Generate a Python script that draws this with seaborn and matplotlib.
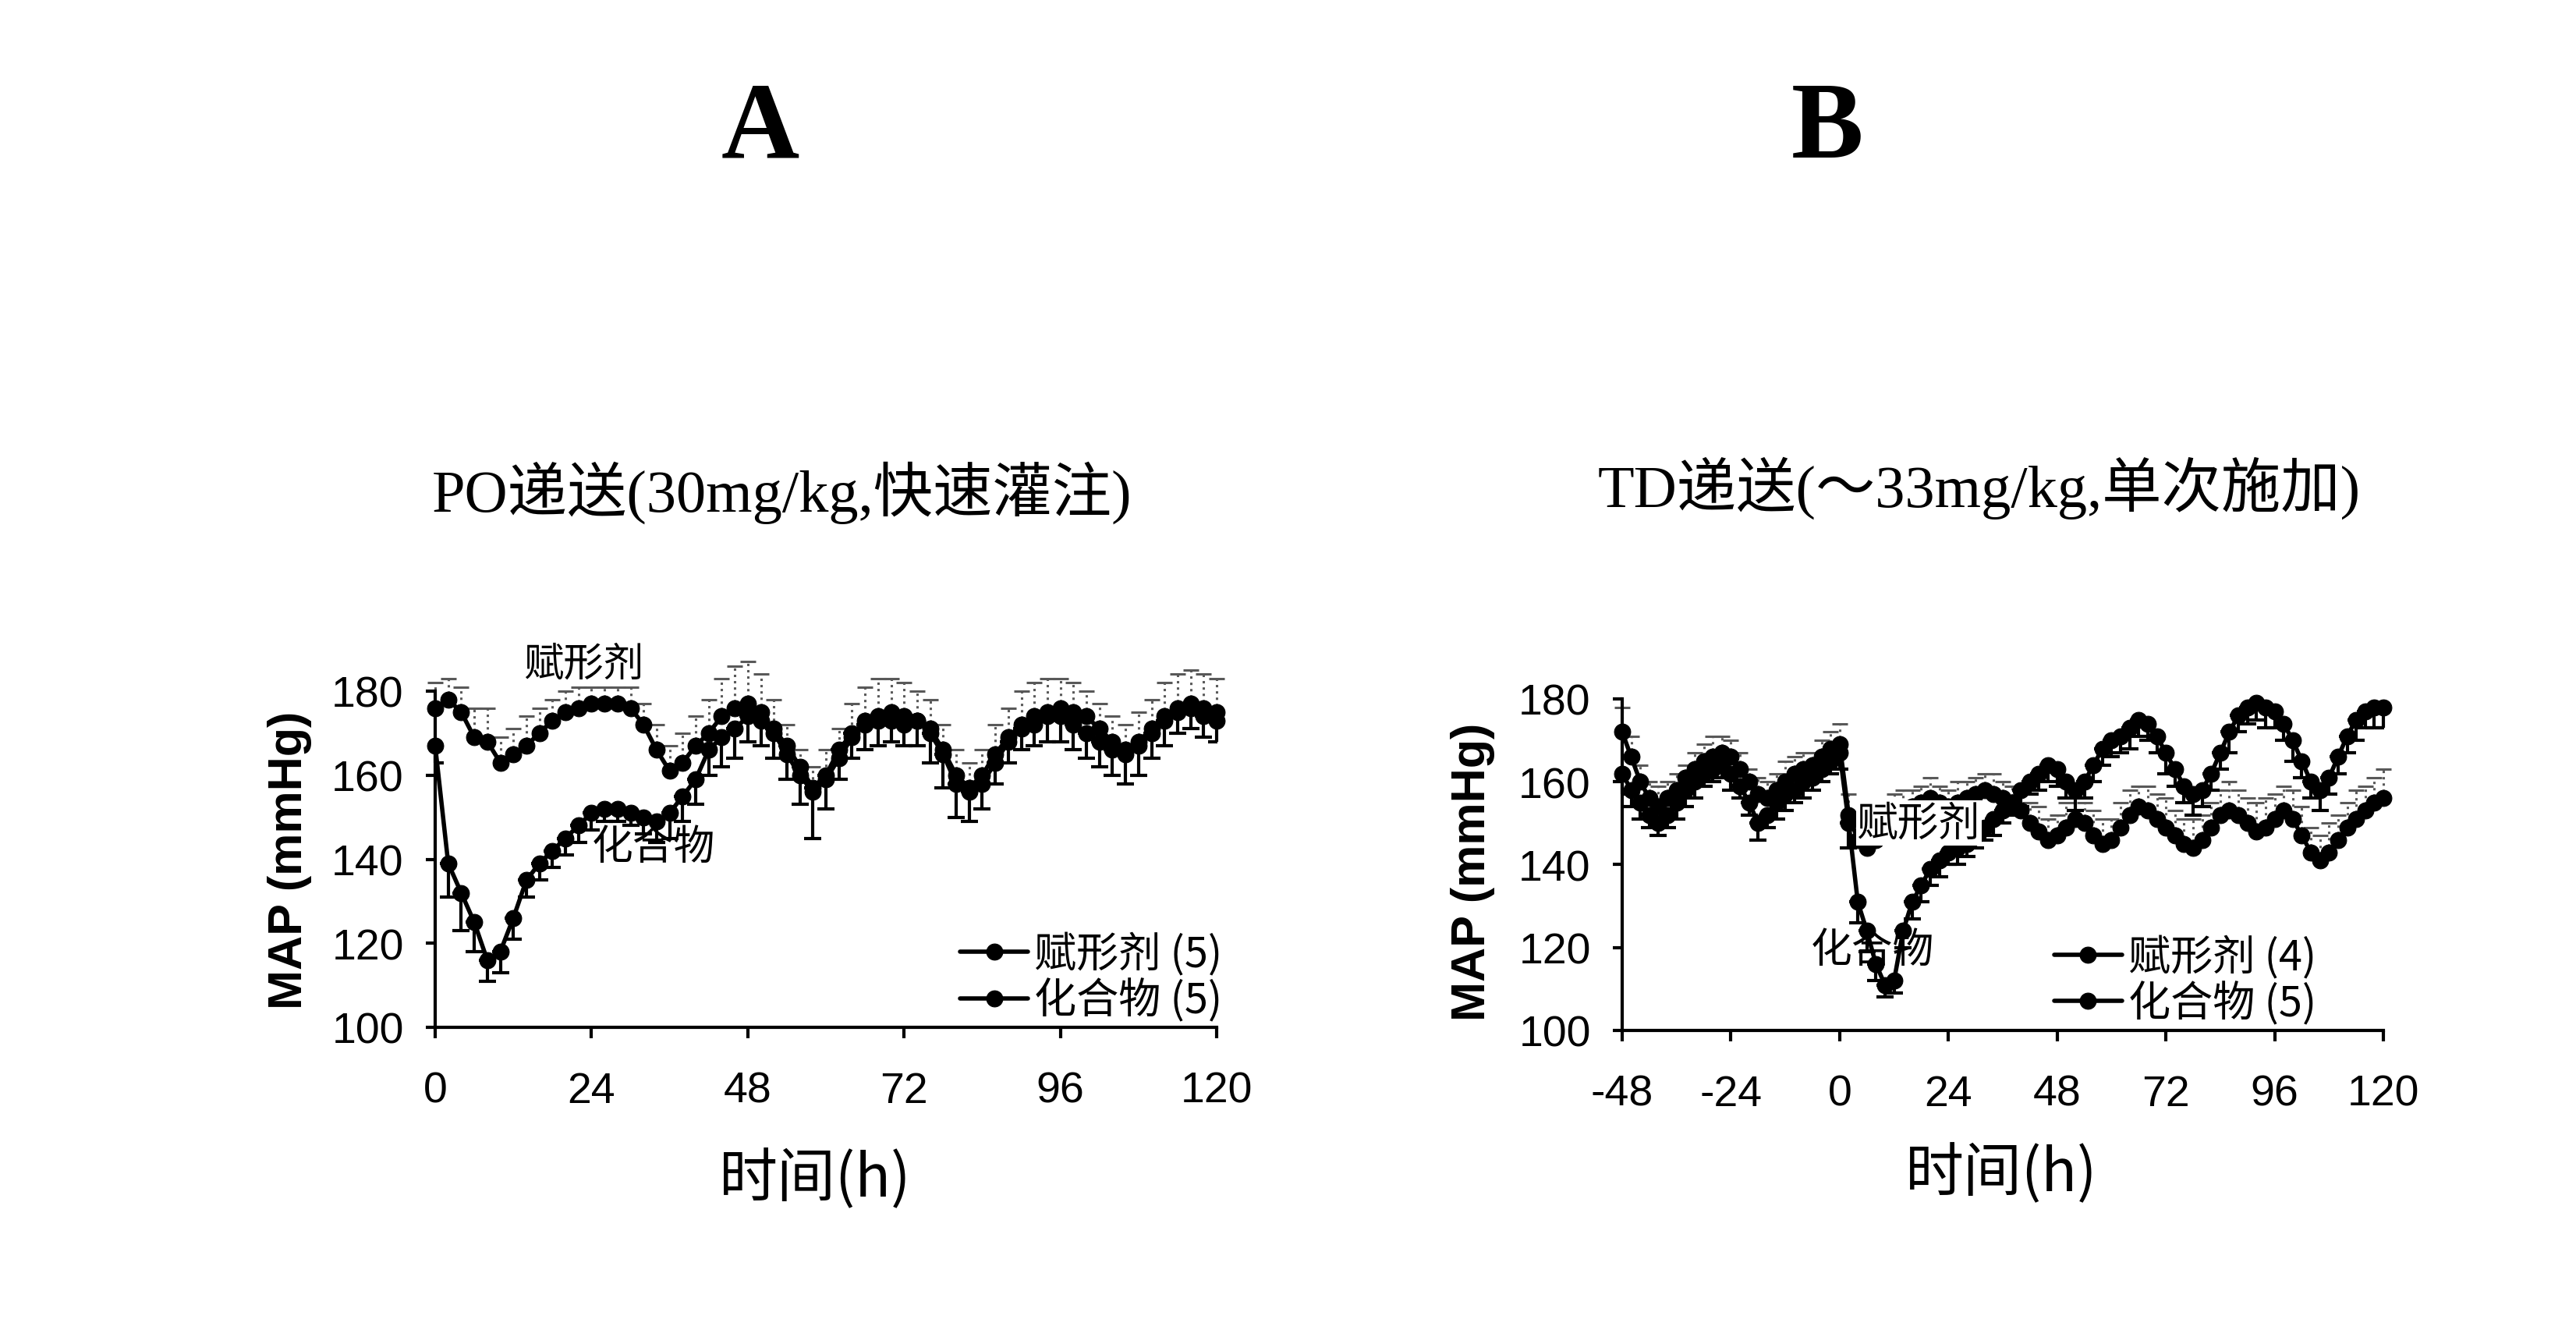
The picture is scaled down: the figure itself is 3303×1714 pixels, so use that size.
import matplotlib
matplotlib.use("Agg")
import matplotlib.pyplot as plt
import seaborn as sns
import pandas as pd

# ---------------- panel A : PO (0..120 h, every 2 h) ----------------
hours_a = list(range(0, 121, 2))
vehicle_a = [176, 178, 175, 169, 168, 163, 165, 167, 170, 173,
             175, 176, 177, 177, 177, 176, 172, 166, 161, 163,
             167, 170, 174, 176, 177, 175, 170, 165, 160, 156,
             159, 164, 169, 173, 174, 175, 174, 173, 171, 166,
             160, 157, 160, 165, 169, 172, 174, 175, 176, 175,
             174, 171, 168, 166, 168, 171, 174, 176, 177, 176, 175]
vehicle_a_err = [6, 5, 6, 7, 8, 6, 6, 7, 6, 5,
                 5, 5, 4, 4, 4, 5, 5, 6, 6, 7,
                 7, 8, 9, 10, 10, 9, 8, 7, 6, 6,
                 7, 7, 8, 8, 9, 8, 8, 7, 7, 6,
                 6, 6, 6, 7, 7, 8, 8, 8, 7, 7,
                 6, 6, 6, 6, 7, 7, 8, 8, 8, 8, 8]
compound_a = [167, 139, 132, 125, 116, 118, 126, 135, 139, 142,
              145, 148, 151, 152, 152, 151, 150, 149, 151, 155,
              159, 166, 169, 171, 174, 173, 171, 167, 162, 157,
              160, 166, 170, 172, 173, 173, 172, 173, 170, 165,
              158, 156, 158, 163, 168, 171, 172, 174, 174, 172,
              170, 168, 166, 165, 167, 170, 173, 175, 176, 174, 173]
compound_a_err = [4, 8, 9, 7, 5, 5, 5, 4, 4, 4,
                  4, 4, 4, 3, 3, 3, 4, 5, 6, 6,
                  6, 6, 7, 7, 6, 6, 7, 8, 9, 12,
                  8, 7, 6, 6, 6, 5, 5, 6, 7, 8,
                  8, 7, 6, 5, 5, 5, 5, 6, 6, 6,
                  6, 6, 6, 7, 7, 6, 6, 5, 5, 5, 5]

# ---------------- panel B : TD (-48..120 h, every 2 h) ----------------
hours_b = list(range(-48, 121, 2))
vehicle_b = [172, 166, 160, 156, 154, 156, 158, 161, 163, 165,
             166, 167, 166, 163, 160, 157, 156, 158, 160, 162,
             163, 164, 166, 168, 169,
             152, 146, 144, 146, 150, 152, 153, 154, 155, 156,
             155, 154, 155, 156, 157, 158, 157, 156, 155, 153,
             150, 148, 146, 147, 149, 151, 150, 147, 145, 146,
             149, 152, 154, 153, 151, 149, 147, 145, 144, 146,
             149, 152, 153, 152, 150, 148, 149, 151, 153, 151,
             147, 143, 141, 143, 146, 149, 151, 153, 155, 156]
vehicle_b_err = [6, 5, 4, 4, 5, 4, 4, 3, 4, 4,
                 5, 4, 4, 4, 3, 4, 4, 4, 5, 4,
                 4, 3, 4, 4, 5,
                 5, 6, 5, 5, 4, 5, 5, 4, 4, 5,
                 4, 4, 5, 4, 4, 4, 5, 4, 4, 5,
                 5, 6, 5, 5, 6, 5, 5, 6, 6, 5,
                 6, 6, 5, 6, 6, 7, 6, 6, 7, 6,
                 6, 6, 7, 6, 6, 7, 7, 6, 6, 7,
                 7, 6, 6, 7, 6, 6, 7, 6, 6, 7]
compound_b = [162, 158, 155, 152, 150, 152, 155, 158, 160, 162,
              163, 164, 162, 159, 155, 150, 152, 155, 157, 158,
              160, 161, 163, 165, 167,
              150, 131, 124, 116, 111, 112, 124, 131, 135, 139,
              141, 143, 144, 145, 147, 149, 151, 153, 155, 158,
              160, 162, 164, 163, 160, 158, 160, 164, 168, 170,
              171, 173, 175, 174, 171, 167, 163, 159, 157, 158,
              162, 167, 172, 176, 178, 179, 178, 177, 174, 170,
              165, 160, 158, 161, 166, 171, 175, 177, 178, 178]
compound_b_err = [5, 4, 4, 3, 3, 3, 4, 4, 4, 3,
                  3, 3, 4, 3, 3, 4, 3, 4, 4, 3,
                  4, 3, 3, 3, 4,
                  6, 5, 5, 4, 3, 3, 4, 4, 4, 4,
                  4, 3, 4, 3, 3, 3, 4, 3, 3, 4,
                  3, 4, 4, 4, 4, 5, 4, 4, 4, 4,
                  4, 5, 4, 4, 4, 5, 4, 4, 5, 4,
                  4, 4, 5, 4, 4, 4, 5, 4, 4, 5,
                  4, 4, 5, 4, 4, 4, 5, 4, 5, 5]

x_ticks_a = [0, 24, 48, 72, 96, 120]
x_ticks_b = [-48, -24, 0, 24, 48, 72, 96, 120]
y_ticks = [100, 120, 140, 160, 180]

sns.set_style("ticks")
plt.rcParams['font.family'] = ['Liberation Sans Narrow', 'Liberation Sans', 'Noto Sans CJK SC']
plt.rcParams['axes.unicode_minus'] = False
for key in ('text.color', 'axes.labelcolor', 'xtick.color', 'ytick.color', 'axes.edgecolor'):
    plt.rcParams[key] = 'black'
cjk = ['Noto Sans CJK SC', 'DejaVu Sans']

W, H = 3303, 1715
fig = plt.figure(figsize=(W / 100, H / 100), dpi=100)
ax_a = fig.add_axes([558 / W, 1 - 1318 / H, 1002 / W, 431 / H])
ax_b = fig.add_axes([2080 / W, 1 - 1322 / H, 976 / W, 425 / H])


def draw_panel(ax, hours, veh, veh_err, cmp, cmp_err, veh_lab, cmp_lab, xticks):
    zeros = [0] * len(hours)
    eb = ax.errorbar(hours, veh, yerr=[zeros, veh_err], fmt='none', ecolor='0.35',
                     elinewidth=2.2, capsize=7, capthick=2.2, zorder=2)
    for lc in eb[2]:
        lc.set_linestyle(':')
        lc.set_clip_on(False)
    for cap in eb[1]:
        cap.set_clip_on(False)
    eb = ax.errorbar(hours, cmp, yerr=[cmp_err, zeros], fmt='none', ecolor='black',
                     elinewidth=3, capsize=8, capthick=3, zorder=2)
    for lc in eb[2]:
        lc.set_clip_on(False)

    df_v = pd.DataFrame({'h': hours, 'map': veh})
    df_c = pd.DataFrame({'h': hours, 'map': cmp})
    sns.lineplot(data=df_v, x='h', y='map', ax=ax, color='black', marker='o',
                 markersize=15, markeredgecolor='black', linewidth=4,
                 label=veh_lab, clip_on=False, zorder=3)
    sns.lineplot(data=df_c, x='h', y='map', ax=ax, color='black', marker='o',
                 markersize=15, markeredgecolor='black', linewidth=4,
                 label=cmp_lab, clip_on=False, zorder=3)

    ax.set_xlim(xticks[0], xticks[-1])
    ax.set_ylim(100, 180)
    ax.set_xticks(xticks)
    ax.set_yticks(y_ticks)
    sns.despine(ax=ax)
    for s in ('left', 'bottom'):
        ax.spines[s].set_linewidth(3)
    ax.tick_params(axis='y', direction='out', length=9, width=3, labelsize=40, pad=20)
    ax.tick_params(axis='x', direction='out', length=10, width=3, labelsize=40, pad=30)
    ax.set_ylabel('MAP (mmHg)', fontsize=44, fontweight='bold',
                  family=['Liberation Sans', 'DejaVu Sans'])
    ax.set_xlabel('时间(h)', fontsize=54, family=cjk)


draw_panel(ax_a, hours_a, vehicle_a, vehicle_a_err, compound_a, compound_a_err,
           '赋形剂 (5)', '化合物 (5)', x_ticks_a)
draw_panel(ax_b, hours_b, vehicle_b, vehicle_b_err, compound_b, compound_b_err,
           '赋形剂 (4)', '化合物 (5)', x_ticks_b)

ax_a.yaxis.set_label_coords(-0.158, 0.5)
ax_a.xaxis.set_label_coords(0.486, -0.36)
ax_b.yaxis.set_label_coords(-0.167, 0.48)
ax_b.xaxis.set_label_coords(0.498, -0.34)

leg_kw = dict(frameon=False, loc='upper left', borderpad=0, handlelength=1.6,
              handletextpad=0.15, labelspacing=0.05,
              prop={'family': cjk, 'size': 39})
ax_a.legend(bbox_to_anchor=(0.645, 0.345), **leg_kw)
ax_b.legend(bbox_to_anchor=(0.54, 0.35), **leg_kw)

# in-plot series labels
ax_a.text(22.8, 186.5, '赋形剂', fontsize=37, family=cjk, ha='center', va='center')
ax_a.text(33.5, 143, '化合物', fontsize=38, family=cjk, ha='center', va='center',
          zorder=5)
ax_b.text(17.5, 150, '赋形剂', fontsize=38, family=cjk, ha='center', va='center',
          zorder=5, bbox=dict(facecolor='white', edgecolor='none', pad=1))
ax_b.text(7.3, 119.5, '化合物', fontsize=38, family=cjk, ha='center', va='center',
          zorder=5)

# panel letters and subtitles
fig.text(975 / W, 1 - 169 / H, 'A', fontsize=100, fontweight='bold',
         family=['Liberation Serif', 'DejaVu Serif'], ha='center', va='center')
fig.text(2343 / W, 1 - 169 / H, 'B', fontsize=100, fontweight='bold',
         family=['Liberation Serif', 'DejaVu Serif'], ha='center', va='center')
fig.text(1003 / W, 1 - 632 / H, 'PO递送(30mg/kg,快速灌注)', fontsize=55,
         family=['Liberation Serif', 'Noto Sans CJK SC'], ha='center', va='center')
fig.text(2538 / W, 1 - 626 / H, 'TD递送(～33mg/kg,单次施加)', fontsize=55,
         family=['Liberation Serif', 'Noto Sans CJK SC'], ha='center', va='center')

fig.savefig('out.png', dpi=100, facecolor='white')
